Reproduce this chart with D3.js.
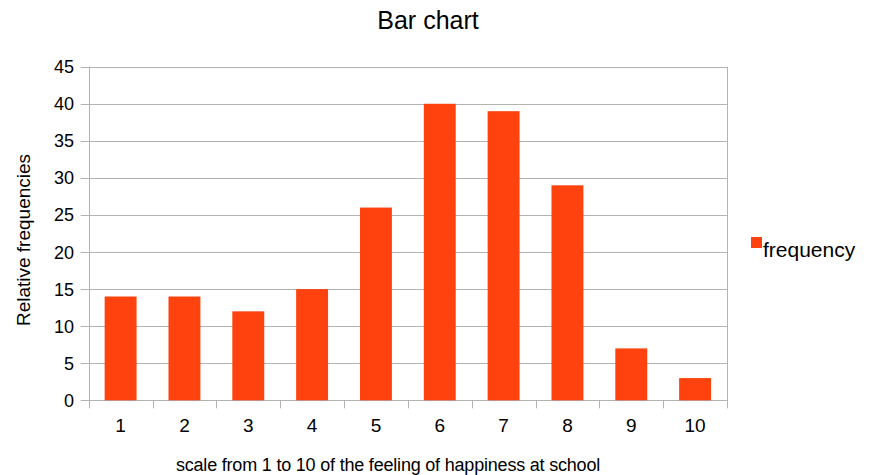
<!DOCTYPE html>
<html>
<head>
<meta charset="utf-8">
<script src="https://cdn.jsdelivr.net/npm/d3@7"></script>
<style>
  body { margin: 0; background: #fff; }
  text { font-family: "Liberation Sans", Arial, sans-serif; fill: #000; }
</style>
</head>
<body>
<div id="chart-container"></div>
<script>
let categories = ["1", "2", "3", "4", "5", "6", "7", "8", "9", "10"];
let frequency = [14, 14, 12, 15, 26, 40, 39, 29, 7, 3];
let yTicks = [0, 5, 10, 15, 20, 25, 30, 35, 40, 45];

let width = 869;
let height = 475;
let plot = { left: 88.7, right: 727, top: 66.7, bottom: 400.3 };

var svg = d3
  .select("#chart-container")
  .append("svg")
  .attr("width", width)
  .attr("height", height);

let xScale = d3
  .scaleBand()
  .domain(categories)
  .range([plot.left, plot.right])
  .paddingInner(0.5)
  .paddingOuter(0.25);

let xBoundary = d3
  .scaleLinear()
  .domain([0, categories.length])
  .range([plot.left, plot.right]);

let yScale = d3.scaleLinear().domain([0, 45]).range([plot.bottom, plot.top]);

// grid lines with small outer ticks
svg
  .append("g")
  .selectAll("line")
  .data(yTicks)
  .enter()
  .append("line")
  .attr("x1", plot.left - 8)
  .attr("x2", plot.right)
  .attr("y1", (d) => Math.round(yScale(d)) + 0.5)
  .attr("y2", (d) => Math.round(yScale(d)) + 0.5)
  .style("stroke", "#b3b3b3")
  .style("stroke-width", 1);

// left and right borders
svg
  .append("g")
  .selectAll("line")
  .data([0, categories.length])
  .enter()
  .append("line")
  .attr("x1", (d) => Math.round(xBoundary(d)) + 0.5)
  .attr("x2", (d) => Math.round(xBoundary(d)) + 0.5)
  .attr("y1", plot.top)
  .attr("y2", plot.bottom + 8)
  .style("stroke", "#b3b3b3");

// x tick marks at category boundaries
svg
  .append("g")
  .selectAll("line")
  .data(d3.range(1, categories.length))
  .enter()
  .append("line")
  .attr("x1", (d) => Math.round(xBoundary(d)) + 0.5)
  .attr("x2", (d) => Math.round(xBoundary(d)) + 0.5)
  .attr("y1", plot.bottom)
  .attr("y2", plot.bottom + 8)
  .style("stroke", "#b3b3b3");

// bars
svg
  .append("g")
  .selectAll("rect")
  .data(frequency)
  .enter()
  .append("rect")
  .attr("x", (d, i) => xScale(categories[i]))
  .attr("y", (d) => yScale(d))
  .attr("width", xScale.bandwidth())
  .attr("height", (d) => yScale(0) - yScale(d))
  .style("fill", "#ff420e");

// y tick labels
svg
  .append("g")
  .selectAll("text")
  .data(yTicks)
  .enter()
  .append("text")
  .attr("x", 74)
  .attr("y", (d) => yScale(d) + 6.5)
  .style("text-anchor", "end")
  .style("font-size", "18px")
  .text((d) => d);

// x tick labels
svg
  .append("g")
  .selectAll("text")
  .data(categories)
  .enter()
  .append("text")
  .attr("x", (d) => xScale(d) + xScale.bandwidth() / 2)
  .attr("y", 432)
  .style("text-anchor", "middle")
  .style("font-size", "19px")
  .text((d) => d);

// title
svg
  .append("text")
  .attr("x", 428)
  .attr("y", 29)
  .style("text-anchor", "middle")
  .style("font-size", "25px")
  .text("Bar chart");

// axis titles
svg
  .append("text")
  .attr("x", 388)
  .attr("y", 471)
  .style("text-anchor", "middle")
  .style("font-size", "18px")
  .style("letter-spacing", "-0.2px")
  .text("scale from 1 to 10 of the feeling of happiness at school");

svg
  .append("text")
  .attr("transform", "rotate(-90)")
  .attr("x", -240)
  .attr("y", 30)
  .style("text-anchor", "middle")
  .style("font-size", "19px")
  .text("Relative frequencies");

// legend
svg
  .append("rect")
  .attr("x", 751)
  .attr("y", 237)
  .attr("width", 11)
  .attr("height", 11)
  .style("fill", "#ff420e");

svg
  .append("text")
  .attr("x", 763)
  .attr("y", 257)
  .style("font-size", "21px")
  .text("frequency");
</script>
</body>
</html>
